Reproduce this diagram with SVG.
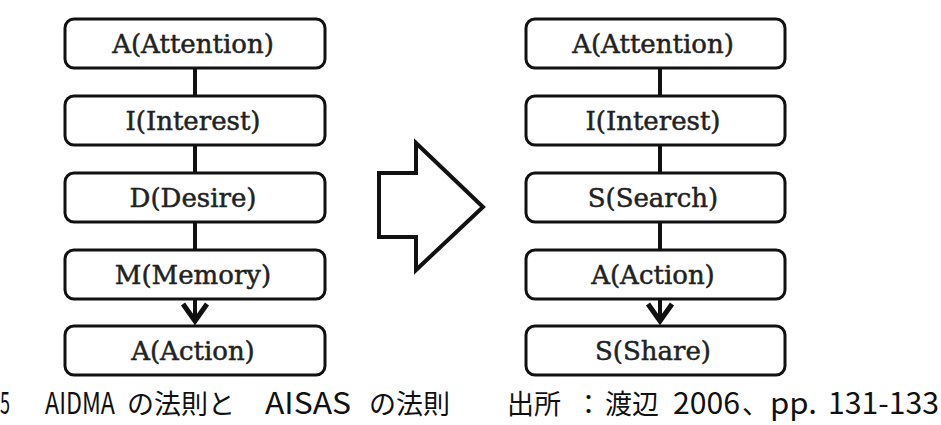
<svg xmlns="http://www.w3.org/2000/svg" width="941" height="425" viewBox="0 0 941 425">
<style>
.box{fill:#fff;stroke:#111;stroke-width:3}
.lbl{font-family:"DejaVu Serif","Liberation Serif",serif;font-size:26px;fill:#222;stroke:#222;stroke-width:0.5;text-anchor:middle}
.con{stroke:#111;stroke-width:4;fill:none}
.cap{font-family:"Noto Sans CJK JP",sans-serif;font-size:27px;fill:#111}
.lat{font-size:30px}
</style>
<defs>
<marker id="chev" viewBox="-22 -16 26 32" refX="0" refY="0" markerWidth="26" markerHeight="32" markerUnits="userSpaceOnUse" orient="auto">
<path d="M-17,-12 L0,0 L-17,12" fill="none" stroke="#111" stroke-width="5"/>
</marker>
</defs>
<rect width="941" height="425" fill="#fff"/>
<g id="connectors">
<line class="con" x1="195" y1="68" x2="195" y2="95"/>
<line class="con" x1="195" y1="145" x2="195" y2="172"/>
<line class="con" x1="195" y1="222" x2="195" y2="249"/>
<line class="con" x1="195" y1="299" x2="195" y2="321" marker-end="url(#chev)"/>
<line class="con" x1="660" y1="68" x2="660" y2="95"/>
<line class="con" x1="660" y1="145" x2="660" y2="172"/>
<line class="con" x1="660" y1="222" x2="660" y2="249"/>
<line class="con" x1="660" y1="299" x2="660" y2="321" marker-end="url(#chev)"/>
</g>
<g id="L1"><rect class="box" x="65" y="19" width="260" height="49" rx="9"/><text class="lbl" x="193" y="53">A(Attention)</text></g>
<g id="L2"><rect class="box" x="65" y="96" width="260" height="49" rx="9"/><text class="lbl" x="193" y="130">I(Interest)</text></g>
<g id="L3"><rect class="box" x="65" y="173" width="260" height="49" rx="9"/><text class="lbl" x="193" y="207">D(Desire)</text></g>
<g id="L4"><rect class="box" x="65" y="250" width="260" height="49" rx="9"/><text class="lbl" x="193" y="284">M(Memory)</text></g>
<g id="L5"><rect class="box" x="65" y="326" width="260" height="49" rx="9"/><text class="lbl" x="193" y="360">A(Action)</text></g>
<g id="R1"><rect class="box" x="526" y="19" width="259" height="49" rx="9"/><text class="lbl" x="653" y="53">A(Attention)</text></g>
<g id="R2"><rect class="box" x="526" y="96" width="259" height="49" rx="9"/><text class="lbl" x="653" y="130">I(Interest)</text></g>
<g id="R3"><rect class="box" x="526" y="173" width="259" height="49" rx="9"/><text class="lbl" x="653" y="207">S(Search)</text></g>
<g id="R4"><rect class="box" x="526" y="250" width="259" height="49" rx="9"/><text class="lbl" x="653" y="284">A(Action)</text></g>
<g id="R5"><rect class="box" x="526" y="326" width="259" height="49" rx="9"/><text class="lbl" x="653" y="360">S(Share)</text></g>
<g id="bigArrow"><polygon points="379,173 416,173 416,143 483,207 416,270 416,237 379,237" fill="#fff" stroke="#111" stroke-width="4" stroke-linejoin="miter"/></g>
<g id="caption">
<text class="cap" y="414"><tspan class="lat" x="0" textLength="10" lengthAdjust="spacingAndGlyphs">5</tspan><tspan class="lat" x="45" textLength="70" lengthAdjust="spacingAndGlyphs">AIDMA</tspan><tspan x="127">の法則と</tspan><tspan class="lat" x="265" textLength="86" lengthAdjust="spacingAndGlyphs">AISAS</tspan><tspan x="369">の法則</tspan><tspan x="507">出所</tspan><tspan x="575">：</tspan><tspan x="605">渡辺</tspan><tspan class="lat" x="673" textLength="67" lengthAdjust="spacingAndGlyphs">2006</tspan><tspan x="742">、</tspan><tspan class="lat" x="770" textLength="47" lengthAdjust="spacingAndGlyphs">pp.</tspan><tspan class="lat" x="828" textLength="111" lengthAdjust="spacingAndGlyphs">131-133</tspan></text>
</g>
</svg>
